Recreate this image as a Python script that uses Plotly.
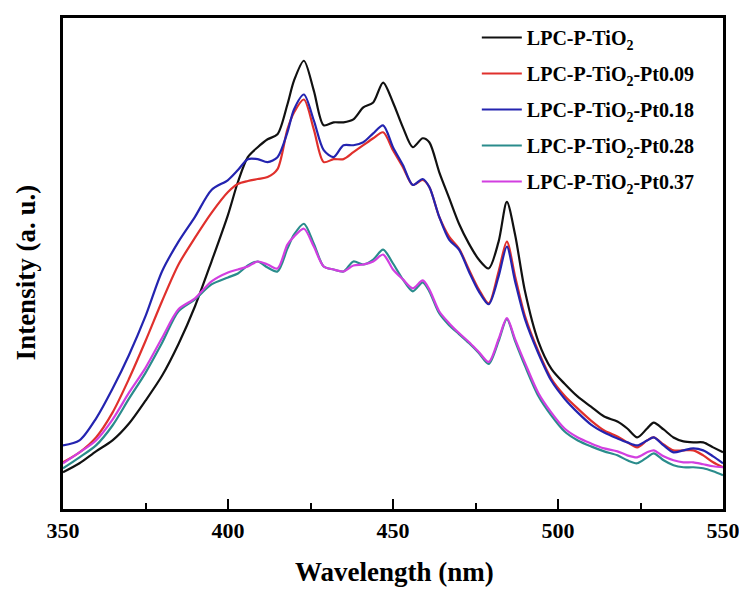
import plotly.graph_objects as go

wavelength = [350, 355, 360, 365, 370, 375, 380, 385, 390, 395, 400, 403, 406, 409, 412, 415, 418, 420, 423, 426,
              429, 432, 435, 438, 441, 444, 447, 450, 453, 456, 459, 461, 464, 467, 470, 473, 476, 479, 482, 484.5,
              487, 490, 494, 498, 502, 506, 510, 514, 518, 521, 524, 527, 529, 532, 535, 538, 541, 544, 547, 550]

lpc_p_tio2 = [37, 46, 58, 69, 86, 109, 134, 166, 204, 249, 296, 329, 354, 364, 372, 377, 407, 431, 451, 421,
              386, 389, 389, 392, 404, 409, 429, 409, 384, 364, 373, 369, 339, 313, 287, 267, 251, 242, 269, 309,
              276, 219, 169, 141, 126, 113, 103, 93, 88, 81, 72, 81, 87, 80, 72, 68, 67, 67, 62, 57]

pt009 = [47, 57, 72, 97, 131, 169, 209, 246, 273, 298, 319, 327, 330, 332, 334, 342, 382, 399, 412, 382,
         349, 352, 352, 359, 366, 373, 379, 361, 344, 326, 331, 324, 294, 274, 262, 241, 221, 207, 239, 269,
         234, 194, 159, 131, 114, 101, 89, 79, 73, 67, 62, 69, 72, 65, 59, 59, 59, 54, 47, 42]

pt018 = [64, 69, 91, 121, 155, 194, 239, 269, 294, 321, 331, 341, 352, 352, 349, 354, 379, 402, 417, 391,
         361, 354, 366, 366, 369, 378, 386, 364, 346, 326, 332, 324, 294, 271, 261, 239, 219, 206, 234, 264,
         229, 191, 157, 129, 111, 97, 85, 77, 71, 67, 64, 69, 72, 64, 57, 59, 61, 59, 53, 46]

pt028 = [41, 52, 64, 84, 111, 137, 167, 199, 211, 226, 233, 237, 245, 249, 243, 239, 262, 276, 287, 267,
         244, 241, 239, 249, 246, 251, 261, 247, 231, 219, 228, 219, 197, 185, 176, 167, 157, 146, 169, 191,
         169, 144, 114, 94, 78, 69, 63, 58, 54, 49, 46, 52, 56, 49, 44, 42, 42, 41, 38, 34]

pt037 = [46, 57, 69, 90, 117, 142, 172, 201, 212, 229, 238, 241, 244, 249, 246, 242, 266, 274, 282, 264,
         244, 241, 239, 245, 246, 249, 256, 241, 231, 222, 230, 221, 199, 187, 177, 168, 158, 148, 171, 192,
         171, 147, 117, 97, 81, 72, 66, 61, 58, 54, 52, 57, 59, 53, 49, 47, 47, 45, 43, 42]

series_names = ["LPC-P-TiO<sub>2</sub>", "LPC-P-TiO<sub>2</sub>-Pt0.09", "LPC-P-TiO<sub>2</sub>-Pt0.18",
                "LPC-P-TiO<sub>2</sub>-Pt0.28", "LPC-P-TiO<sub>2</sub>-Pt0.37"]
series_values = [lpc_p_tio2, pt009, pt018, pt028, pt037]
series_colors = ["#111111", "#E0302C", "#2424B0", "#2A8C8C", "#D23FE0"]

x_ticks = [350, 400, 450, 500, 550]

FONT = "Times New Roman, Liberation Serif, serif"

fig = go.Figure()
for name, vals, col in zip(series_names, series_values, series_colors):
    fig.add_trace(go.Scatter(x=wavelength, y=vals, mode="lines", name=name, legendgroup=name,
                             line=dict(color=col, width=2.2, shape="spline", smoothing=0.8)))

fig.update_layout(
    width=739, height=583,
    margin=dict(l=55, r=19, t=7, b=82),
    paper_bgcolor="white", plot_bgcolor="white",
    showlegend=True,
    legend=dict(x=0.627, y=1.0, xanchor="left", yanchor="top",
                font=dict(family=FONT, size=20, color="black", weight="bold"),
                bgcolor="rgba(0,0,0,0)", borderwidth=0, tracegroupgap=7, itemwidth=40),
    xaxis=dict(range=[350, 550], tickvals=x_ticks, ticks="inside", ticklen=10, tickwidth=2,
               tickcolor="black", showline=True, linewidth=3, linecolor="black", mirror=True,
               showgrid=False, zeroline=False,
               tickfont=dict(family=FONT, size=22, color="black", weight="bold"),
               minor=dict(dtick=25, ticks="inside", ticklen=6, tickwidth=2, tickcolor="black")),
    yaxis=dict(range=[0, 494], showticklabels=False, ticks="", showline=True, linewidth=3,
               linecolor="black", mirror=True, showgrid=False, zeroline=False),
    annotations=[
        dict(text="Wavelength (nm)", xref="paper", yref="paper", x=0.503, y=-0.128, yanchor="middle",
             showarrow=False, font=dict(family=FONT, size=27, color="black", weight="bold")),
        dict(text="Intensity (a. u.)", xref="paper", yref="paper", x=-0.056, y=0.482, textangle=-90,
             xanchor="center", yanchor="middle", showarrow=False,
             font=dict(family=FONT, size=27, color="black", weight="bold")),
    ],
)

fig.write_html("out.html")
